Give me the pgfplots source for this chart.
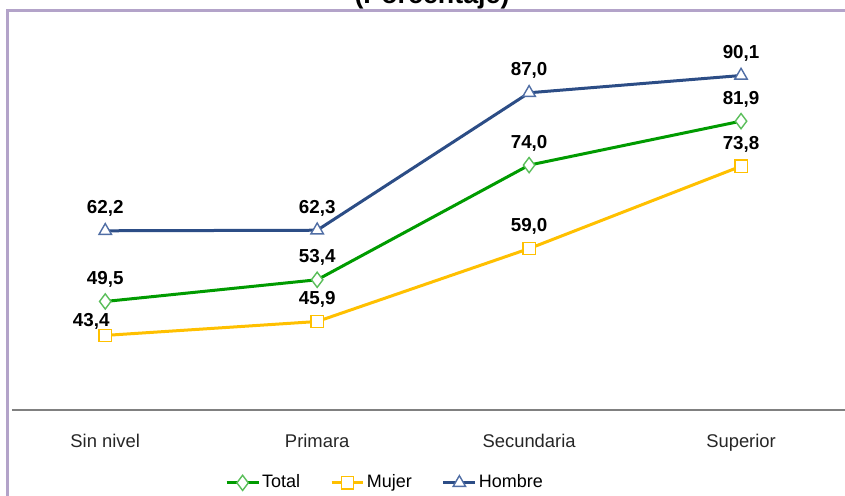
\documentclass[border=0pt]{standalone}
\usepackage{pgfplots}
\pgfplotsset{compat=1.18}
\usepackage{fontspec}
\setmainfont{Liberation Sans}
\definecolor{cTotal}{RGB}{0,155,0}
\definecolor{cTotalM}{RGB}{90,190,90}
\definecolor{cMujer}{RGB}{255,192,0}
\definecolor{cHombre}{RGB}{44,77,134}
\definecolor{cHombreM}{RGB}{80,110,165}
\definecolor{cFrame}{RGB}{179,163,201}
\begin{document}
\begin{tikzpicture}
\useasboundingbox (0,0) rectangle (422.5pt,248pt);
\begin{scope}
\clip (0,0) rectangle (422.5pt,248pt);
\node[anchor=base, font=\fontsize{13.4}{15}\selectfont\bfseries, inner sep=0] at (216pt,246pt) {(Porcentaje)};
\draw[cFrame, line width=1.5pt] (3.5pt,-20pt) |- (460pt,242.5pt);
\begin{axis}[
  at={(6pt,43pt)}, anchor=south west,
  scale only axis, width=417.5pt, height=194.8pt,
  xmin=-0.44, xmax=3.5, ymin=30, ymax=100,
  axis x line=bottom, axis y line=none,
  axis line style={-, draw=gray, line width=0.8pt},
  xtick={0,1,2,3},
  xticklabels={Sin nivel,Primara,Secundaria,Superior},
  major tick length=0pt,
  xticklabel style={anchor=base, yshift=-19pt, inner sep=0pt, font=\fontsize{9.2}{11}\selectfont, text=black!85},
  ytick=\empty,
  clip=false,
  line width=1.5pt,
  nodes near coords={\pgfmathprintnumber[fixed,fixed zerofill,precision=1,use comma,assume math mode=true]{\pgfplotspointmeta}},
  every node near coord/.append style={font=\fontsize{9.4}{11}\selectfont\bfseries, text=black, anchor=base, yshift=8.5pt, inner sep=0pt},
  legend style={at={(0.4467,-0.187)}, anchor=center, draw=none, fill=none, legend columns=3,
    font=\fontsize{9}{11}\selectfont, /tikz/every even column/.append style={column sep=14pt},
    nodes={inner sep=1pt}},
  legend image code/.code={\draw[mark repeat=2,mark phase=2] plot coordinates {(0cm,0cm)(0.28cm,0cm)(0.56cm,0cm)};},
]
\addplot[cTotal, mark=diamond*, mark size=3.8pt, mark options={draw=cTotalM, fill=white, line width=0.7pt}]
  coordinates {(0,49.5) (1,53.4) (2,74.0) (3,81.9)};
\addlegendentry{Total}
\addplot[cMujer, mark=square*, mark size=3.1pt, mark options={draw=cMujer, fill=white, line width=0.7pt},
  nodes near coords=\empty]
  coordinates {(0,43.4) (1,45.9) (2,59.0) (3,73.8)};
\addlegendentry{Mujer}
\addplot[cHombre, mark=triangle*, mark size=3.6pt, mark options={draw=cHombreM, fill=white, line width=0.7pt}]
  coordinates {(0,62.2) (1,62.3) (2,87.0) (3,90.1)};
\addlegendentry{Hombre}
% labels for Mujer
\addplot[draw=none, mark=none, forget plot,
  every node near coord/.append style={xshift=-7pt, yshift=-4pt}]
  coordinates {(0,43.4)};
\addplot[draw=none, mark=none, forget plot]
  coordinates {(1,45.9) (2,59.0) (3,73.8)};
\end{axis}
\end{scope}
\end{tikzpicture}
\end{document}
